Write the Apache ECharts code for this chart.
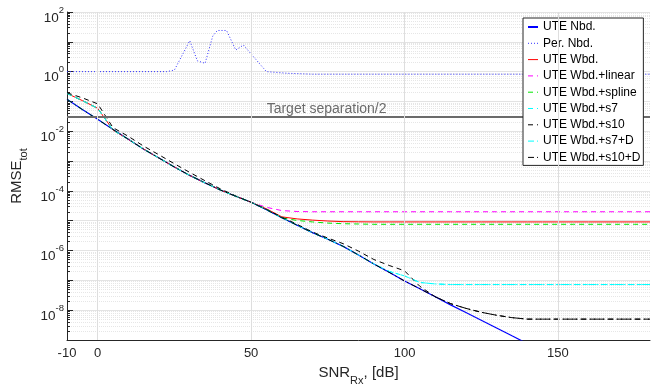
<!DOCTYPE html>
<html><head><meta charset="utf-8">
<script src="https://cdn.jsdelivr.net/npm/echarts@6/dist/echarts.min.js"></script>
<style>html,body{margin:0;padding:0;background:#fff}#c{width:657px;height:385px}</style>
</head><body><div id="c"></div>
<script>
// ---- data ----
const snr = [-10,-5,0,5,10,15,20,25,30,35,40,45,50,55,60,65,70,75,80,85,90,95,100,105,110,115,120,125,130,135,140,145,150,155,160,165,170,175,180];

const uteNbd = [1.18e-1,5.37e-2,2.51e-2,1.15e-2,5.37e-3,2.51e-3,1.26e-3,6.31e-4,3.31e-4,1.86e-4,1.07e-4,6.61e-5,4.17e-5,2.34e-5,1.26e-5,7.08e-6,3.98e-6,2.40e-6,1.38e-6,7.08e-7,3.55e-7,1.86e-7,9.55e-8,5.25e-8,2.82e-8,1.51e-8,8.32e-9,4.57e-9,2.51e-9,1.38e-9,7.59e-10,4.17e-10,2.24e-10,1.26e-10,6.76e-11,3.72e-11,2.0e-11,1.12e-11,6.3e-12];

const perX = [-10,22.5,25,30,32.5,35,37.5,39,42,45,47.5,55,62,70,180];
const perNbd = [1.0,1.0,1.13,10.9,2.3,1.9,15.6,24,24,5.3,7.8,1.0,0.88,0.82,0.82];

const uteWbd = [1.86e-1,1.07e-1,5.89e-2,1.10e-2,5.37e-3,2.51e-3,1.26e-3,6.31e-4,3.31e-4,1.86e-4,1.07e-4,6.61e-5,4.17e-5,2.51e-5,1.35e-5,1.15e-5,1.05e-5,9.77e-6,9.33e-6,9.2e-6,
  9.12e-6,9.12e-6,9.12e-6,9.12e-6,9.12e-6,9.12e-6,9.12e-6,9.12e-6,9.12e-6,9.12e-6,9.12e-6,9.12e-6,9.12e-6,9.12e-6,9.12e-6,9.12e-6,9.12e-6,9.12e-6,9.12e-6];

const wbdLinear = [1.86e-1,1.07e-1,5.89e-2,1.10e-2,5.37e-3,2.51e-3,1.26e-3,6.31e-4,3.31e-4,1.86e-4,1.07e-4,6.61e-5,4.17e-5,2.82e-5,2.19e-5,2.04e-5,
  2.0e-5,2.0e-5,2.0e-5,2.0e-5,2.0e-5,2.0e-5,2.0e-5,2.0e-5,2.0e-5,2.0e-5,2.0e-5,2.0e-5,2.0e-5,2.0e-5,2.0e-5,2.0e-5,2.0e-5,2.0e-5,2.0e-5,2.0e-5,2.0e-5,2.0e-5,2.0e-5];

const wbdSpline = [1.86e-1,1.07e-1,5.89e-2,1.10e-2,5.37e-3,2.51e-3,1.26e-3,6.31e-4,3.31e-4,1.86e-4,1.07e-4,6.61e-5,4.17e-5,2.45e-5,1.26e-5,1.02e-5,9.12e-6,8.32e-6,7.94e-6,7.76e-6,
  7.59e-6,7.59e-6,7.59e-6,7.59e-6,7.59e-6,7.59e-6,7.59e-6,7.59e-6,7.59e-6,7.59e-6,7.59e-6,7.59e-6,7.59e-6,7.59e-6,7.59e-6,7.59e-6,7.59e-6,7.59e-6,7.59e-6];

const wbdS7 = [1.86e-1,1.07e-1,5.89e-2,1.10e-2,5.37e-3,2.51e-3,1.26e-3,6.31e-4,3.31e-4,1.86e-4,1.07e-4,6.61e-5,4.17e-5,2.34e-5,1.26e-5,7.08e-6,3.98e-6,2.40e-6,1.38e-6,7.08e-7,3.55e-7,2.0e-7,1.41e-7,8.51e-8,7.59e-8,
  7.24e-8,7.24e-8,7.24e-8,7.24e-8,7.24e-8,7.24e-8,7.24e-8,7.24e-8,7.24e-8,7.24e-8,7.24e-8,7.24e-8,7.24e-8,7.24e-8];

const wbdS10 = [1.95e-1,1.32e-1,8.32e-2,1.32e-2,6.76e-3,3.16e-3,1.62e-3,8.13e-4,4.17e-4,2.19e-4,1.17e-4,6.76e-5,4.17e-5,2.40e-5,1.32e-5,7.59e-6,4.17e-6,2.63e-6,1.70e-6,9.55e-7,5.01e-7,3.16e-7,2.09e-7,6.31e-8,2.82e-8,1.66e-8,1.15e-8,8.51e-9,6.76e-9,5.62e-9,
  5.01e-9,5.01e-9,5.01e-9,5.01e-9,5.01e-9,5.01e-9,5.01e-9,5.01e-9,5.01e-9];

const wbdS7D = [1.18e-1,5.37e-2,2.51e-2,1.15e-2,5.37e-3,2.51e-3,1.26e-3,6.31e-4,3.31e-4,1.86e-4,1.07e-4,6.61e-5,4.17e-5,2.34e-5,1.26e-5,7.08e-6,3.98e-6,2.40e-6,1.38e-6,7.08e-7,3.55e-7,2.0e-7,1.41e-7,8.51e-8,7.59e-8,
  7.24e-8,7.24e-8,7.24e-8,7.24e-8,7.24e-8,7.24e-8,7.24e-8,7.24e-8,7.24e-8,7.24e-8,7.24e-8,7.24e-8,7.24e-8,7.24e-8];

const wbdS10D = [1.18e-1,5.37e-2,2.51e-2,1.15e-2,5.37e-3,2.51e-3,1.26e-3,6.31e-4,3.31e-4,1.86e-4,1.07e-4,6.61e-5,4.17e-5,2.34e-5,1.26e-5,7.08e-6,3.98e-6,2.40e-6,1.38e-6,7.08e-7,3.55e-7,1.86e-7,9.55e-8,5.25e-8,2.82e-8,1.66e-8,1.15e-8,8.51e-9,6.76e-9,5.62e-9,
  5.01e-9,5.01e-9,5.01e-9,5.01e-9,5.01e-9,5.01e-9,5.01e-9,5.01e-9,5.01e-9];

const targetLevel = 0.03;
const targetLabelX = 74.6;
const targetX = [-10, 180];
const xTicks = [-10, 0, 50, 100, 150];
const xGrid = [0, 50, 100, 150];

const names = ['UTE Nbd.','Per. Nbd.','UTE Wbd.','UTE Wbd.+linear','UTE Wbd.+spline','UTE Wbd.+s7','UTE Wbd.+s10','UTE Wbd.+s7+D','UTE Wbd.+s10+D'];

// ---- chart ----
const FONT = '"Liberation Sans", Arial, Helvetica, sans-serif';
const pair = (xs, ys) => xs.map((x, i) => [x, ys[i]]);
const DASH = [5, 4], DOT = [1, 2], DASHDOT = [6, 3, 1.5, 3];
function mk(name, xs, ys, color, type, width) {
  return {
    name, type: 'line', data: pair(xs, ys), color,
    symbol: 'none', showSymbol: false, smooth: false, clip: true, z: 2,
    lineStyle: { color, type, width: width || 1 },
    emphasis: { disabled: true }
  };
}

const series = [
  { name: '_grid', type: 'line', data: [], z: 1, silent: true,
    markLine: { silent: true, symbol: ['none', 'none'], label: { show: false }, animation: false,
      lineStyle: { color: '#dedede', type: 'solid', width: 1 },
      data: xGrid.map(v => ({ xAxis: v })) } },
  mk(names[0], snr, uteNbd, '#0000ff', 'solid', 1.2),
  mk(names[1], perX, perNbd, '#3030ff', DOT, 1),
  mk(names[2], snr, uteWbd, '#ff0000', 'solid', 1),
  mk(names[3], snr, wbdLinear, '#ff00ff', DASH, 1),
  mk(names[4], snr, wbdSpline, '#00e600', DASH, 1),
  mk(names[5], snr, wbdS7, '#00ffff', DASH, 1),
  mk(names[6], snr, wbdS10, '#000000', DASH, 1),
  mk(names[7], snr, wbdS7D, '#00ffff', DASHDOT, 1),
  mk(names[8], snr, wbdS10D, '#000000', DASHDOT, 1),
  { name: '_target', type: 'line', symbol: 'none', z: 3, silent: true,
    data: targetX.map(x => [x, targetLevel]),
    lineStyle: { color: '#6b6b6b', width: 2 }, color: '#6b6b6b',
    markPoint: { symbol: 'circle', symbolSize: 0, animation: false,
      data: [{ coord: [targetLabelX, targetLevel],
        label: { show: true, position: 'top', distance: 1, formatter: 'Target separation/2',
          color: '#6b6b6b', fontSize: 14, fontFamily: FONT } }] } }
];

const legendData = names.map((n, i) => i === 0
  ? { name: n, lineStyle: { width: 2 } }
  : { name: n, lineStyle: { width: 1 } });

const chart = echarts.init(document.getElementById('c'), null, { renderer: 'canvas' });
chart.setOption({
  animation: false,
  backgroundColor: '#ffffff',
  textStyle: { fontFamily: FONT },
  grid: { left: 67, right: 7, top: 12, bottom: 45, containLabel: false, outerBoundsMode: 'none' },
  legend: {
    data: legendData, orient: 'vertical', left: 523, top: 18,
    itemWidth: 10, itemHeight: 14, itemGap: 2.3, padding: [2, 3, 1, 4],
    itemStyle: { opacity: 0 },
    lineStyle: { width: 1 },
    backgroundColor: '#ffffff', borderColor: '#262626', borderWidth: 1, borderRadius: 0,
    textStyle: { fontSize: 12, color: '#000', fontFamily: FONT, lineHeight: 14 },
    selectedMode: false
  },
  xAxis: {
    type: 'value', min: -10, max: 180,
    axisLine: { show: true, onZero: false, lineStyle: { color: '#262626', width: 1 } },
    axisTick: { show: true, inside: true, length: 5, customValues: xTicks, lineStyle: { color: '#262626' } },
    axisLabel: { customValues: xTicks, color: '#262626', fontSize: 13, margin: 7, fontFamily: FONT },
    splitLine: { show: false },
    name: '{b|SNR}{s|Rx}{b|, [dB]}', nameLocation: 'middle', nameGap: 23,
    nameTextStyle: { color: '#262626', fontFamily: FONT,
      rich: { b: { fontSize: 15, lineHeight: 22, verticalAlign: 'top', color: '#262626', fontFamily: FONT },
              s: { fontSize: 11, lineHeight: 10, verticalAlign: 'bottom', color: '#262626', fontFamily: FONT } } }
  },
  yAxis: {
    type: 'log', logBase: 10, min: 1e-9, max: 100, interval: 1,
    axisLine: { show: true, onZero: false, lineStyle: { color: '#262626', width: 1 } },
    axisTick: { show: true, inside: true, length: 6, lineStyle: { color: '#262626' } },
    minorTick: { show: true, splitNumber: 9, length: 3, lineStyle: { color: '#262626' } },
    splitLine: { show: true, lineStyle: { color: '#e3e3e3', width: 1 } },
    minorSplitLine: { show: true, lineStyle: { color: '#e6e6e6', width: 1, type: [1, 1] } },
    axisLabel: {
      margin: 3, padding: [6, 0, 0, 0],
      formatter: v => { const e = Math.round(Math.log10(v)); return (e % 2 === 0) ? '{b|10}{s|' + e + '}' : ''; },
      rich: { b: { fontSize: 13.5, lineHeight: 20, verticalAlign: 'bottom', color: '#262626', fontFamily: FONT },
              s: { fontSize: 9.5, lineHeight: 10, verticalAlign: 'top', color: '#262626', fontFamily: FONT } }
    },
    name: '{b|RMSE}{s|tot}', nameLocation: 'middle', nameGap: 32, nameRotate: 90,
    nameTextStyle: { color: '#262626', fontFamily: FONT,
      rich: { b: { fontSize: 15, lineHeight: 20, verticalAlign: 'top', color: '#262626', fontFamily: FONT },
              s: { fontSize: 11, lineHeight: 10, verticalAlign: 'bottom', color: '#262626', fontFamily: FONT } } }
  },
  series
});
</script>
</body></html>
